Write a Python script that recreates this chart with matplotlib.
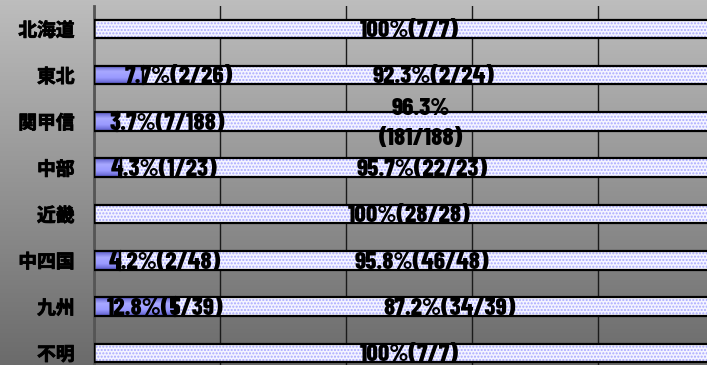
import numpy as np
import matplotlib
matplotlib.use("Agg")
import matplotlib.pyplot as plt
import matplotlib.patheffects as pe
from matplotlib.colors import LinearSegmentedColormap

# data
regions = ["北海道", "東北", "関甲信", "中部", "近畿", "中四国", "九州", "不明"]
pct_yes = [0, 7.7, 3.7, 4.3, 0, 4.2, 12.8, 0]
pct_no = [100, 92.3, 96.3, 95.7, 100, 95.8, 87.2, 100]
lab_yes = ["", "7.7%(2/26)", "3.7%(7/188)", "4.3%(1/23)", "", "4.2%(2/48)", "12.8%(5/39)", ""]
lab_no = ["100%(7/7)", "92.3%(2/24)", "96.3%\n(181/188)", "95.7%(22/23)",
          "100%(28/28)", "95.8%(46/48)", "87.2%(34/39)", "100%(7/7)"]
# label positions for the small segment (placed by hand in the original)
lab_yes_x = [0, 13.5, 11.6, 11.1, 0, 11.3, 11.3, 0]

lab_font = ["Barlow Condensed", "DejaVu Sans"]
cjk_font = ["Noto Sans CJK JP", "DejaVu Sans"]

fig = plt.figure(figsize=(7.07, 3.65), dpi=100)

# gray gradient background
bg = fig.add_axes([0, 0, 1, 1], zorder=0)
grad = np.linspace(0, 1, 256).reshape(-1, 1)
bg_cmap = LinearSegmentedColormap.from_list("bg", ["#bdbdbd", "#6b6b6b"])
bg.imshow(grad, aspect="auto", cmap=bg_cmap, extent=[0, 1, 0, 1])
bg.axis("off")

ax = fig.add_axes([94/707, -11/365, 630/707, 370.3/365], zorder=1)
ax.patch.set_alpha(0)

y = np.arange(len(regions))
h = 0.4
yes = np.array(pct_yes) / 100
no = np.array(pct_no) / 100

bars1 = ax.barh(y, yes, height=h, color="#8c8cf0", linewidth=0, zorder=2)
blue_cmap = LinearSegmentedColormap.from_list("bl", ["#5a5ac8", "#a8a8ff", "#9a9aff", "#5a5ac8"])
for b in bars1:
    if b.get_width() <= 0:
        continue
    x0, y0 = b.get_x(), b.get_y()
    im = ax.imshow(grad, aspect="auto", cmap=blue_cmap,
                   extent=[x0, x0 + b.get_width(), y0 + h, y0], zorder=2.1)
    im.set_clip_path(b)

ax.barh(y, no, left=yes, height=h, color="#f4f4ff", edgecolor="#a8a8ff",
        hatch=".....", linewidth=0, zorder=2)
ax.barh(y, yes, height=h, fill=False, edgecolor="black", linewidth=1.6, zorder=3)
ax.barh(y, no, left=yes, height=h, fill=False, edgecolor="black", linewidth=1.6, zorder=3)

for i in range(len(regions)):
    if lab_yes[i]:
        ax.text(lab_yes_x[i] / 100, y[i] + 0.05, lab_yes[i], ha="center", va="center",
                fontsize=18, fontweight=800, family=lab_font, zorder=4)
    ax.text(yes[i] + no[i] / 2, y[i] + 0.05, lab_no[i], ha="center", va="center",
            fontsize=18, fontweight=800, family=lab_font,
            linespacing=1.45, zorder=4)

ax.set_xlim(0, 1)
ax.set_ylim(len(regions) - 0.5, -0.5)
ax.set_xticks([0, 0.2, 0.4, 0.6, 0.8, 1.0])
ax.set_xticklabels([])
ax.set_yticks(y)
ax.set_yticklabels(regions, fontsize=13.5, fontweight="bold", family=cjk_font)
for t in ax.get_yticklabels():
    t.set_path_effects([pe.withStroke(linewidth=0.6, foreground="black")])
ax.tick_params(axis="both", length=0)
ax.tick_params(axis="y", pad=14)
ax.grid(axis="x", color="#1a1a1a", linewidth=1)
ax.set_axisbelow(True)
for s in ["top", "right", "bottom"]:
    ax.spines[s].set_visible(False)
ax.spines["left"].set_color("#555555")
ax.spines["left"].set_linewidth(2)

fig.savefig("out.png", dpi=100)
